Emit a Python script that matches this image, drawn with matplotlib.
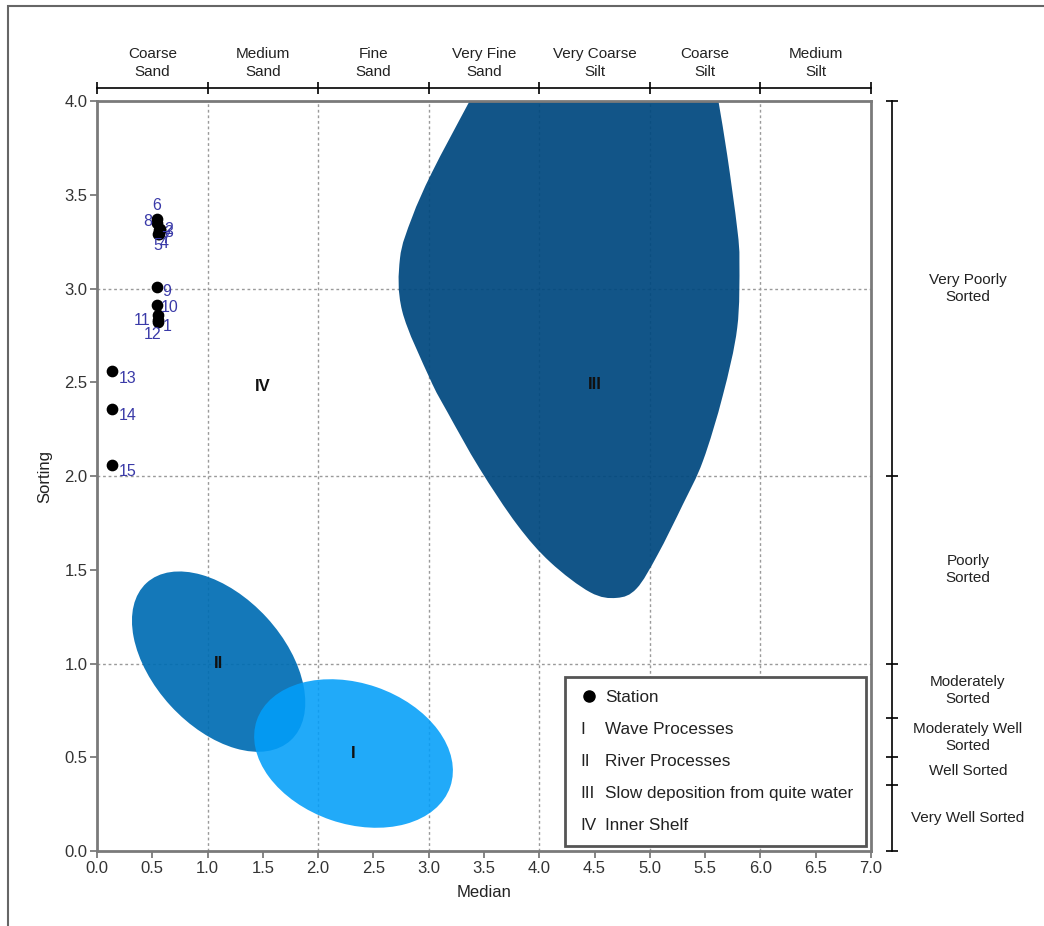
import numpy as np
import matplotlib
matplotlib.use('Agg')
import matplotlib.pyplot as plt
import matplotlib.transforms as mtransforms
import matplotlib.text as mtext
from matplotlib.patches import Ellipse, PathPatch, Rectangle
from matplotlib.path import Path
from matplotlib.lines import Line2D
from matplotlib.legend_handler import HandlerBase

plt.rcParams['font.family'] = ['Liberation Sans', 'DejaVu Sans']

# stations (median, sorting)
station = [str(i) for i in range(1, 16)]
median = [0.55, 0.57, 0.57, 0.56, 0.55, 0.54, 0.56, 0.54, 0.54, 0.54, 0.55, 0.55, 0.14, 0.14, 0.14]
sorting = [2.82, 3.32, 3.31, 3.29, 3.29, 3.37, 3.31, 3.35, 3.01, 2.91, 2.86, 2.83, 2.56, 2.36, 2.06]

# grain size classes (top scale)
size_edges = [0, 1, 2, 3, 4, 5, 6, 7]
size_names = ['Coarse\nSand', 'Medium\nSand', 'Fine\nSand', 'Very Fine\nSand',
              'Very Coarse\nSilt', 'Coarse\nSilt', 'Medium\nSilt']

# sorting classes (right scale)
sort_edges = [0, 0.35, 0.5, 0.71, 1.0, 2.0, 4.0]
sort_names = ['Very Well Sorted', 'Well Sorted', 'Moderately Well\nSorted',
              'Moderately\nSorted', 'Poorly\nSorted', 'Very Poorly\nSorted']

# process fields I and II (ellipses)
ell_names = ['II', 'I']
ell_cx = [1.10, 2.32]
ell_cy = [1.01, 0.52]
ell_w = [1.93, 1.85]
ell_h = [1.18, 1.27]
ell_angle = [-47.5, -19]

# field III outline
field3_x = [3.60, 3.37, 3.03, 2.85, 2.74, 2.76, 3.01, 3.17, 3.46, 3.80, 4.10, 4.46,
            4.70, 4.88, 5.07, 5.30, 5.48, 5.66, 5.79, 5.81, 5.79, 5.70, 5.62, 5.55]
field3_y = [4.25, 4.00, 3.62, 3.38, 3.16, 2.88, 2.52, 2.34, 2.04, 1.74, 1.54, 1.38,
            1.35, 1.40, 1.58, 1.85, 2.08, 2.43, 2.79, 3.14, 3.32, 3.71, 4.00, 4.25]

# region labels
region_names = ['I', 'II', 'III', 'IV']
region_x = [2.32, 1.10, 4.50, 1.50]
region_y = [0.52, 1.00, 2.49, 2.48]

legend_names = ['Wave Processes', 'River Processes',
                'Slow deposition from quite water', 'Inner Shelf']

# label offsets for the stations (points)
lab_off = [(6.5, -3), (6, -1), (6.5, -1.5), (4, -7), (0, -8), (0, 9.5), (4.5, -6),
           (-6.5, 1), (7, -3.5), (9.5, -1.5), (-11, -4), (-3.5, -10), (11, -5.5),
           (11, -5), (11, -5)]


def smooth_closed(xs, ys):
    p = np.column_stack([xs, ys])
    n = len(p)
    verts = [p[0]]
    codes = [Path.MOVETO]
    for i in range(n):
        p0, p1, p2, p3 = p[i - 1], p[i], p[(i + 1) % n], p[(i + 2) % n]
        verts += [p1 + (p2 - p0) / 6, p2 - (p3 - p1) / 6, p2]
        codes += [Path.CURVE4] * 3
    return Path(verts, codes)


class RomanHandler(HandlerBase):
    def create_artists(self, legend, orig_handle, xdescent, ydescent,
                       width, height, fontsize, trans):
        t = mtext.Text(-xdescent + 2, -ydescent + height / 2, orig_handle,
                       fontsize=fontsize, color='#222222', ha='left',
                       va='center_baseline', transform=trans)
        return [t]


fig = plt.figure(figsize=(10.44, 9.26), dpi=100)
ax = fig.add_axes([0.0929, 0.081, 0.7414, 0.8099])
ax.set_xlim(0, 7)
ax.set_ylim(0, 4)

# grid
for gx in range(1, 7):
    ax.axvline(gx, color='#9a9a9a', lw=1, ls=(0, (2, 2)), zorder=0)
for gy in range(1, 4):
    ax.axhline(gy, color='#9a9a9a', lw=1, ls=(0, (2, 2)), zorder=0)

# field III
ax.add_patch(PathPatch(smooth_closed(field3_x, field3_y), facecolor='#00487f',
                       edgecolor='none', alpha=0.93, zorder=1))

# ellipses, drawn in a space with equal pixel scaling
px_x = fig.get_figwidth() * fig.dpi * 0.7414 / 7
px_y = fig.get_figheight() * fig.dpi * 0.8099 / 4
r = px_y / px_x
tr = mtransforms.Affine2D().scale(1, 1 / r) + ax.transData
ell_colors = ['#006db3', '#029ef9']
ell_alpha = [0.92, 0.88]
for i in range(len(ell_names)):
    e = Ellipse((ell_cx[i], ell_cy[i] * r), ell_w[i], ell_h[i], angle=ell_angle[i],
                facecolor=ell_colors[i], edgecolor='none', alpha=ell_alpha[i],
                transform=tr, zorder=2)
    ax.add_patch(e)

for name, x, y in zip(region_names, region_x, region_y):
    ax.text(x, y, name, fontsize=12, fontweight='bold', color='#111111',
            ha='center', va='center', zorder=5)

# stations
ax.scatter(median, sorting, s=55, color='black', zorder=4)
for i in range(len(station)):
    ax.annotate(station[i], (median[i], sorting[i]), xytext=lab_off[i],
                textcoords='offset points', ha='center', va='center',
                fontsize=11.5, color='#3a3aa8', zorder=5)

# axes look
ax.set_xticks(np.arange(0, 7.01, 0.5))
ax.set_yticks(np.arange(0, 4.01, 0.5))
ax.xaxis.set_major_formatter('{x:.1f}')
ax.yaxis.set_major_formatter('{x:.1f}')
ax.tick_params(direction='out', length=5, width=1.2, color='#707070',
               labelcolor='#333333', labelsize=12, pad=2)
for s in ax.spines.values():
    s.set_color('#7a7a7a')
    s.set_linewidth(2)
ax.set_xlabel('Median', fontsize=12, color='#222222')
ax.set_ylabel('Sorting', fontsize=12, color='#222222')
ax.xaxis.set_label_coords(0.5, -0.045)
ax.yaxis.set_label_coords(-0.058, 0.5)

# top grain size scale
top = ax.secondary_xaxis(1.0173)
top.set_xticks(size_edges)
top.tick_params(direction='inout', length=8, width=1.2, color='black', labeltop=False)
top.spines['top'].set_linewidth(1.2)
top.spines['top'].set_color('black')
mids = [(size_edges[i] + size_edges[i + 1]) / 2 for i in range(len(size_names))]
for m, name in zip(mids, size_names):
    ax.text(m, 1.0507, name, transform=ax.get_xaxis_transform(), ha='center',
            va='center', fontsize=11, color='#222222', linespacing=1.3)

# right sorting scale
right = ax.secondary_yaxis(1.027)
right.set_yticks(sort_edges)
right.tick_params(direction='inout', length=8, width=1.2, color='black', labelright=False)
right.spines['right'].set_linewidth(1.2)
right.spines['right'].set_color('black')
for i, name in enumerate(sort_names):
    m = (sort_edges[i] + sort_edges[i + 1]) / 2
    ax.text(1.1253, m, name, transform=ax.get_yaxis_transform(), ha='center',
            va='center', fontsize=11, color='#222222', linespacing=1.3)

# legend
handles = [Line2D([], [], marker='o', color='black', ls='', markersize=8)] + region_names
labels = ['Station'] + legend_names
leg = ax.legend(handles, labels, handler_map={str: RomanHandler()},
                loc='lower right', bbox_to_anchor=(0.9935, 0.0067), borderaxespad=0,
                fontsize=12.3, handlelength=1.3, handletextpad=0.3, labelspacing=1.0,
                borderpad=0.75, fancybox=False, framealpha=1, labelcolor='#222222')
leg.get_frame().set_edgecolor('#555555')
leg.get_frame().set_linewidth(2)
leg.set_zorder(6)

# outer frame of the picture
fig.add_artist(Rectangle((0.0077, -0.05), 1.1, 1.0435, fill=False, edgecolor='#666666',
                         lw=1.5, transform=fig.transFigure))

fig.savefig('out.png', dpi=100)
